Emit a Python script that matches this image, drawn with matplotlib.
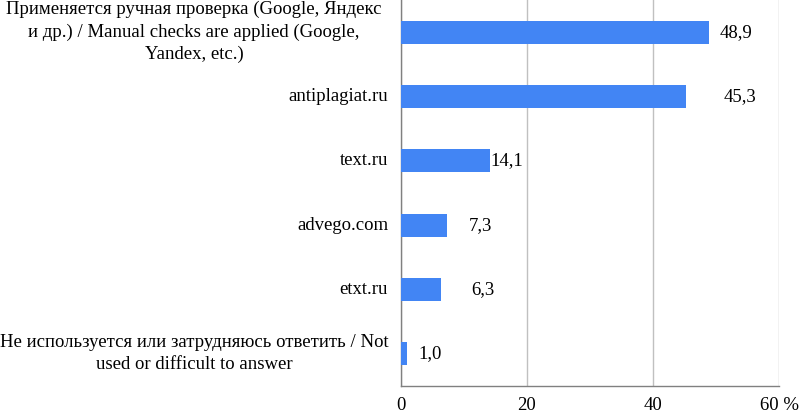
import matplotlib
matplotlib.use("Agg")
import matplotlib.pyplot as plt
import matplotlib.transforms as mtransforms

categories = [
    "Применяется ручная проверка (Google, Яндекс\nи др.) / Manual checks are applied (Google,\nYandex, etc.)",
    "antiplagiat.ru",
    "text.ru",
    "advego.com",
    "etxt.ru",
    "Не используется или затрудняюсь ответить / Not\nused or difficult to answer",
]
values = [48.9, 45.3, 14.1, 7.3, 6.3, 1.0]
value_labels = ["48,9", "45,3", "14,1", "7,3", "6,3", "1,0"]
label_offsets = [1.7, 5.9, 0.1, 3.5, 4.9, 1.7]  # label gaps in data units (style)
xticks = [0, 20, 40, 60]
xtick_labels = ["0", "20", "40", "60 %"]

plt.rcParams['font.family'] = ['Liberation Serif', 'DejaVu Serif']

W, H = 809, 415
fig = plt.figure(figsize=(W / 100, H / 100), dpi=100)
ax = fig.add_axes([401 / W, 1 - 386 / H, 378 / W, 386 / H])

n = len(categories)
ypos = list(range(n))
ax.barh(ypos, values, height=0.36, color="#4285F4", zorder=3)
ax.set_ylim(n - 0.5, -0.5)
ax.set_xlim(0, 60)
ax.set_yticks(ypos)
ax.set_yticklabels([])
ax.set_xticks(xticks)
ax.set_xticklabels(xtick_labels, fontsize=13.5)
ax.tick_params(axis='both', length=0)
ax.tick_params(axis='x', pad=8)

# category labels: single-line right-aligned, multi-line centred in label box
trans = mtransforms.blended_transform_factory(fig.transFigure, ax.transData)
for y, cat in zip(ypos, categories):
    if "\n" in cat:
        fig.text(194 / W, y, cat, transform=trans, ha='center', va='center',
                 fontsize=13.5, linespacing=1.4)
    else:
        fig.text(388 / W, y, cat, transform=trans, ha='right', va='center',
                 fontsize=13.5)

for y, v, lab, off in zip(ypos, values, value_labels, label_offsets):
    ax.text(v + off, y, lab, va='center', ha='left', fontsize=13.5, zorder=4)

ax.grid(axis='x', color="#c0c0c0", linewidth=1, zorder=0)
for s in ['top', 'right']:
    ax.spines[s].set_visible(False)
for s in ['left', 'bottom']:
    ax.spines[s].set_color("#808080")
    ax.spines[s].set_linewidth(1)

fig.savefig("out.png", dpi=100)
